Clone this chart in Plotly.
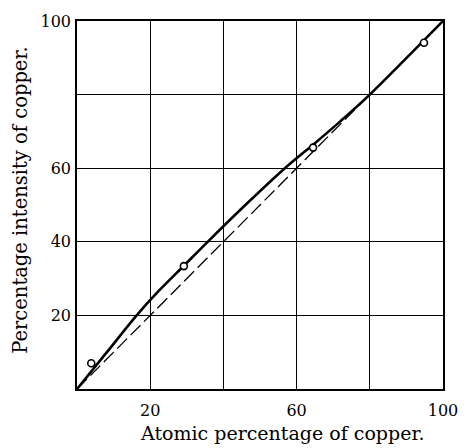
import plotly.graph_objects as go

# Smooth experimental curve (solid)
curve_x = [0, 8, 16.3, 22, 29.2, 35.7, 46, 56.8, 65, 72, 80, 100]
curve_y = [0, 9.8, 20, 26.3, 33.5, 40, 50, 60, 66.8, 72.8, 80, 100]

# Observed points (open circles)
point_x = [3.9, 29.2, 64.5, 94.8]
point_y = [7.0, 33.4, 65.6, 94.1]

# Ideal proportional line (dashed)
diag_x = [0, 100]
diag_y = [0, 100]

grid_vals = [20, 40, 60, 80, 100]
x_tick_text = ["20", "", "60", "", "100"]
y_tick_text = ["20", "40", "60", "", "100"]

x_title = "Atomic percentage of copper."
y_title = "Percentage intensity of copper."

serif = "DejaVu Serif"

fig = go.Figure()
fig.add_trace(go.Scatter(x=diag_x, y=diag_y, mode="lines",
                         line=dict(color="black", width=1.3, dash="14px,5px"),
                         showlegend=False, hoverinfo="skip"))
fig.add_trace(go.Scatter(x=curve_x, y=curve_y, mode="lines",
                         line=dict(color="black", width=2.6, shape="spline", smoothing=0.8),
                         showlegend=False))
fig.add_trace(go.Scatter(x=point_x, y=point_y, mode="markers",
                         marker=dict(symbol="circle", size=7, color="white",
                                     line=dict(color="black", width=1.6)),
                         showlegend=False))

axis_common = dict(
    range=[0, 100], tickvals=grid_vals,
    showgrid=True, gridcolor="black", gridwidth=1.4,
    showline=True, linecolor="black", linewidth=1.6, mirror=True,
    zeroline=False, ticks="",
    tickfont=dict(family=serif, size=16, color="black"),
    fixedrange=True,
)

fig.update_xaxes(**axis_common, ticktext=x_tick_text, ticklabelstandoff=6)
fig.update_yaxes(**axis_common, ticktext=y_tick_text, ticklabelstandoff=1)

fig.update_layout(
    width=470, height=448,
    margin=dict(l=77, r=18, t=12, b=59),
    paper_bgcolor="white", plot_bgcolor="white",
    annotations=[
        dict(text=x_title, xref="paper", yref="paper", x=0.56, y=-0.085,
             xanchor="center", yanchor="top", showarrow=False,
             font=dict(family=serif, size=19, color="black")),
        dict(text=y_title, xref="paper", yref="paper", x=-0.155, y=0.515,
             xanchor="center", yanchor="middle", textangle=-90, showarrow=False,
             font=dict(family=serif, size=19.5, color="black")),
    ],
)

fig.write_html("out.html")
